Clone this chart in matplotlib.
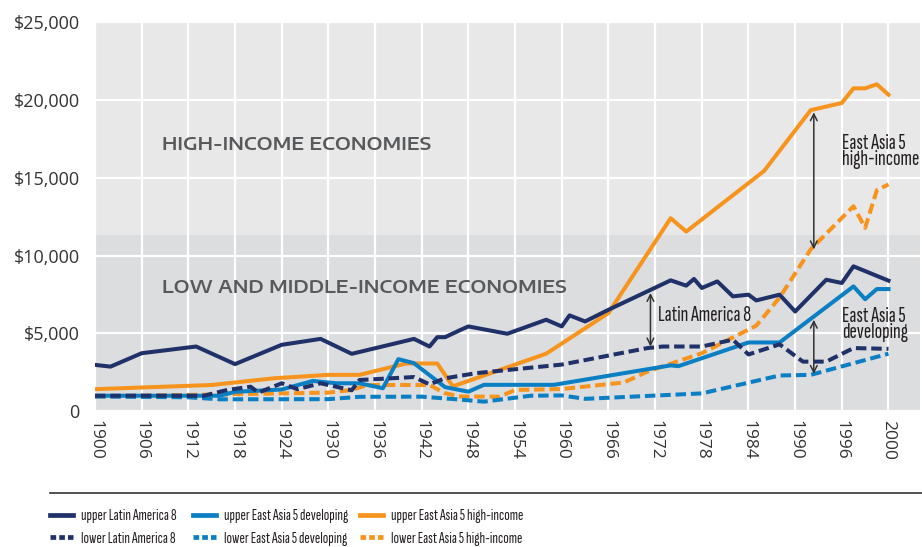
import numpy as np
import matplotlib
matplotlib.use("Agg")
import matplotlib.pyplot as plt
from matplotlib.lines import Line2D
from matplotlib.ticker import FuncFormatter

# GDP per capita, upper and lower bounds
la_up_years = [1900, 1902, 1906, 1913, 1918, 1924, 1929, 1933, 1941, 1943, 1944, 1945, 1947,
               1948, 1953, 1958, 1960, 1961, 1963, 1966, 1971, 1974, 1976, 1977, 1978, 1980,
               1982, 1984, 1985, 1988, 1990, 1994, 1996, 1997, 2000]
la_up_vals = [2980, 2870, 3730, 4160, 3030, 4270, 4650, 3690, 4650, 4160, 4760, 4760, 5230,
              5450, 4980, 5880, 5450, 6160, 5770, 6520, 7700, 8410, 8070, 8500, 7920, 8340,
              7380, 7490, 7120, 7490, 6410, 8450, 8240, 9310, 8390]

la_lo_years = [1900, 1914, 1917, 1920, 1921, 1924, 1926, 1929, 1930, 1933, 1934, 1941, 1943,
               1945, 1949, 1960, 1971, 1973, 1978, 1982, 1984, 1988, 1991, 1994, 1997, 2000]
la_lo_vals = [1000, 1000, 1370, 1580, 1200, 1800, 1420, 1800, 1690, 1350, 2010, 2200, 1730,
              2120, 2450, 3000, 4060, 4160, 4160, 4600, 3650, 4300, 3190, 3190, 4060, 4010]

ead_up_years = [1900, 1916, 1918, 1924, 1928, 1931, 1934, 1937, 1939, 1941, 1945, 1948,
                1950, 1959, 1974, 1975, 1984, 1988, 1997, 1998, 1999, 2000]
ead_up_vals = [1000, 1000, 1250, 1400, 1950, 1800, 1800, 1480, 3350, 3090, 1550, 1260,
               1700, 1700, 2950, 2900, 4420, 4420, 8020, 7200, 7850, 7850]

ead_lo_years = [1900, 1912, 1916, 1930, 1934, 1942, 1947, 1950, 1956, 1960, 1963, 1978,
                1988, 1992, 2000]
ead_lo_vals = [950, 900, 770, 780, 930, 940, 750, 620, 1000, 1020, 800, 1150,
               2300, 2340, 3700]

eah_up_years = [1900, 1915, 1923, 1930, 1934, 1940, 1944, 1946, 1958, 1966, 1974, 1976,
                1986, 1992, 1996, 1997, 1998, 1999, 2000]
eah_up_vals = [1420, 1690, 2120, 2340, 2340, 3070, 3070, 1600, 3700, 6310, 12400, 11540,
               15430, 19340, 19800, 20740, 20740, 21000, 20330]

eah_lo_years = [1900, 1918, 1924, 1930, 1933, 1935, 1943, 1945, 1947, 1952, 1954, 1960,
                1968, 1971, 1978, 1985, 1988, 1992, 1997, 1998, 1999, 2000]
eah_lo_vals = [950, 1100, 1150, 1200, 1370, 1690, 1690, 1160, 950, 940, 1370, 1430,
               1850, 2550, 3730, 5500, 7300, 10400, 13170, 11780, 14200, 14570]

x_ticks = [1900, 1906, 1912, 1918, 1924, 1930, 1936, 1942, 1948, 1954, 1960, 1966,
           1972, 1978, 1984, 1990, 1996, 2000]
y_ticks = [0, 5000, 10000, 15000, 20000, 25000]
band_split = 11300

NAVY = "#1f3168"
BLUE = "#0b7fc3"
ORANGE = "#f7941d"
COND = ["Sofia Sans Extra Condensed", "DejaVu Sans"]
WIDE = ["Encode Sans Expanded", "DejaVu Sans"]

plt.rcParams["font.family"] = ["Open Sans", "DejaVu Sans"]


# the source chart gives the last 4 years as much room as the 6-year steps before
def fwd(x):
    x = np.asarray(x, dtype=float)
    return np.where(x <= 1996, x, 1996 + (x - 1996) * 1.5)


def inv(x):
    x = np.asarray(x, dtype=float)
    return np.where(x <= 1996, x, 1996 + (x - 1996) / 1.5)


fig = plt.figure(figsize=(9.22, 5.47), dpi=100)
ax = fig.add_axes([95 / 922, 1 - 411.3 / 547, 825 / 922, (411.3 - 22) / 547])
ax.set_xscale("function", functions=(fwd, inv))

ax.axhspan(0, band_split, color="#dcdddf", lw=0, zorder=0.1)
ax.axhspan(band_split, 25000, color="#e8e8e9", lw=0, zorder=0.1)

lw = 2.9
dash = (2.6, 1.2)
ax.plot(eah_lo_years, eah_lo_vals, color=ORANGE, lw=lw, dashes=dash, dash_capstyle="butt")
ax.plot(ead_lo_years, ead_lo_vals, color=BLUE, lw=lw, dashes=dash, dash_capstyle="butt")
ax.plot(eah_up_years, eah_up_vals, color=ORANGE, lw=lw)
ax.plot(ead_up_years, ead_up_vals, color=BLUE, lw=lw)
ax.plot(la_lo_years, la_lo_vals, color=NAVY, lw=lw, dashes=dash, dash_capstyle="butt")
ax.plot(la_up_years, la_up_vals, color=NAVY, lw=lw)

ax.set_xlim(1900, 2002.7)
ax.set_ylim(0, 25000)
ax.set_xticks(x_ticks)
ax.set_xticklabels([str(y) for y in x_ticks], rotation=270, fontsize=12.5, color="#333333")
ax.set_yticks(y_ticks)
ax.yaxis.set_major_formatter(FuncFormatter(lambda v, p: "0" if v == 0 else "${:,.0f}".format(v)))
ax.tick_params(axis="y", length=0, pad=11, labelsize=13, labelcolor="#333333")
ax.tick_params(axis="x", length=0, pad=6)
ax.minorticks_off()
ax.set_axisbelow(True)
ax.grid(True, color="white", lw=1.6)
for s in ax.spines.values():
    s.set_visible(False)

# region labels (the source uses wide letter spacing)
ax.text(1908.6, 17100, "HIGH-INCOME ECONOMIES", family=WIDE, fontsize=13.2, fontweight="semibold",
        color="#58595b", va="center", ha="left")
ax.text(1908.6, 7920, "LOW AND MIDDLE-INCOME ECONOMIES", family=WIDE, fontsize=13.2,
        fontweight="semibold", color="#58595b", va="center", ha="left")

# gap arrows
arrow = dict(arrowstyle="<->", color="#333333", lw=1.1, shrinkA=0, shrinkB=0, mutation_scale=12)
ax.annotate("", xy=(1992.4, 19200), xytext=(1992.4, 10400), arrowprops=arrow)
ax.annotate("", xy=(1971.4, 7600), xytext=(1971.4, 4160), arrowprops=arrow)
ax.annotate("", xy=(1992.4, 5880), xytext=(1992.4, 2400), arrowprops=arrow)

ax.text(1996.0, 16700, "East Asia 5\nhigh-income", family=COND, fontsize=16,
        color="#231f20", va="center", ha="left", linespacing=0.8)
ax.text(1972.4, 6140, "Latin America 8", family=COND, fontsize=16,
        color="#231f20", va="center", ha="left")
ax.text(1996.0, 5560, "East Asia 5\ndeveloping", family=COND, fontsize=16,
        color="#231f20", va="center", ha="left", linespacing=0.8)

# legend
fig.add_artist(Line2D([50 / 922, 1], [1 - 492.5 / 547] * 2, color="#333333", lw=1.2))

groups = [
    ("Latin America 8", NAVY, 50),
    ("East Asia 5 developing", BLUE, 193),
    ("East Asia 5 high-income", ORANGE, 360),
]
for name, col, xpx in groups:
    h = [Line2D([], [], color=col, lw=3.4),
         Line2D([], [], color=col, lw=3.4, dashes=(1.2, 0.65), dash_capstyle="butt")]
    fig.legend(h, ["upper " + name, "lower " + name], loc="upper left",
               bbox_to_anchor=(xpx / 922, 1 - 509 / 547), frameon=False,
               prop={"family": COND, "size": 11.6}, handlelength=1.45,
               handletextpad=0.5, labelspacing=0.5, borderpad=0, borderaxespad=0,
               labelcolor="#231f20")

plt.savefig("out.png", dpi=100)
